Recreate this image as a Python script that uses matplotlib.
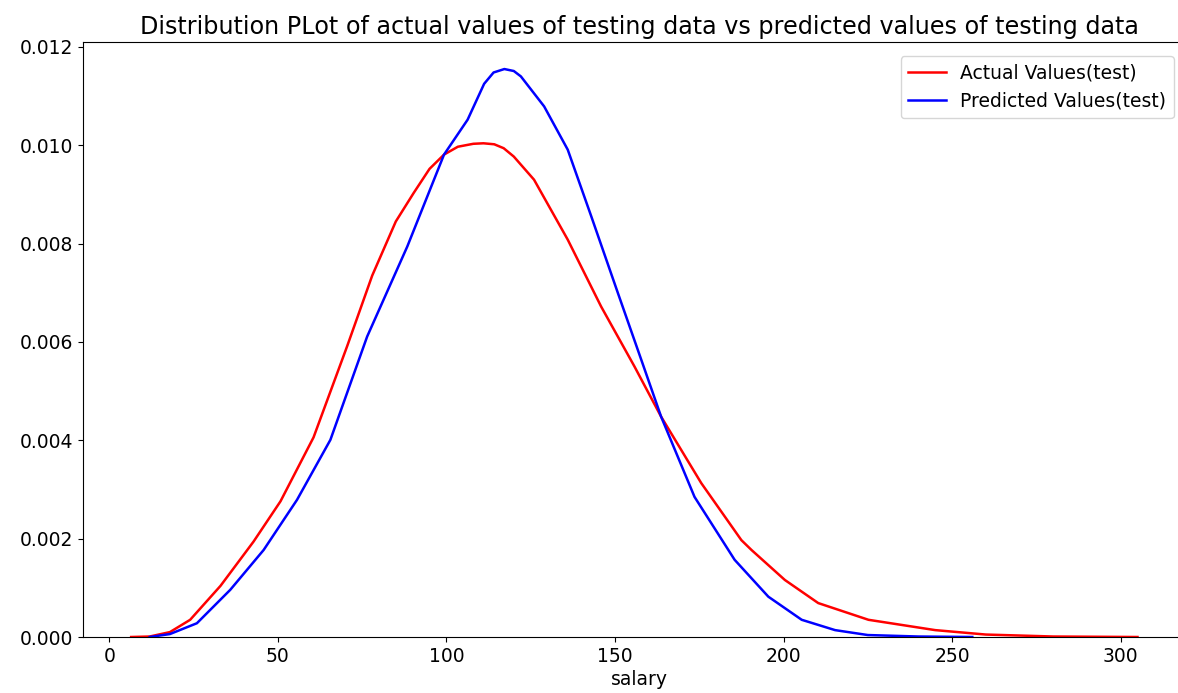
import matplotlib
matplotlib.use("Agg")
import matplotlib.pyplot as plt

# KDE curves (salary vs density)
actual_x = [6.5, 12, 18, 24, 33, 42.8, 50.8, 60.6, 70.6, 78, 85, 90.3, 95, 99.3,
            103.4, 108, 111, 114.2, 117, 120, 126, 136, 145.9, 155.8, 163.7,
            175.6, 187.5, 190.5, 200.4, 210.3, 225.2, 245, 260, 280, 305]
actual_y = [0, 0.00001, 0.0001, 0.00035, 0.00104, 0.00194, 0.00276, 0.00406,
            0.00592, 0.00735, 0.00845, 0.00903, 0.00952, 0.00981, 0.00997,
            0.01003, 0.01004, 0.01002, 0.00994, 0.00977, 0.0093, 0.00808,
            0.00672, 0.0055, 0.00448, 0.00313, 0.00197, 0.00177, 0.00116,
            0.00069, 0.00035, 0.00014, 0.00005, 0.00001, 0]

pred_x = [12, 18, 26, 35.9, 45.8, 55.7, 65.6, 76.5, 88.4, 99.3, 106.3, 111.2,
          114, 117.2, 120, 122.1, 129, 136, 143, 150.9, 157.8, 163.7, 173.6,
          185.5, 195.5, 205.4, 215.3, 225, 240, 256]
pred_y = [0, 0.00006, 0.00028, 0.00096, 0.00177, 0.00279, 0.00401, 0.00611,
          0.00794, 0.00981, 0.01052, 0.01125, 0.01148, 0.01155, 0.01151,
          0.0114, 0.01079, 0.00991, 0.00855, 0.00699, 0.00564, 0.00448,
          0.00285, 0.00157, 0.00082, 0.00035, 0.00014, 0.00004, 0.00001, 0]

fig = plt.figure(figsize=(11.78, 6.93), dpi=100)
ax = fig.add_axes([0.0707, 0.0808, 0.945, 0.8586])

ax.plot(actual_x, actual_y, color='r', lw=1.8, label='Actual Values(test)')
ax.plot(pred_x, pred_y, color='b', lw=1.8, label='Predicted Values(test)')

ax.set_xlim(-7.7, 322.5)
ax.set_ylim(0, 0.0121)
ax.set_xticks([0, 50, 100, 150, 200, 250, 300])
ax.tick_params(labelsize=13.5)
ax.set_xlabel('salary', fontsize=13.5, labelpad=3)
ax.set_title('Distribution PLot of actual values of testing data vs predicted values of testing data',
             fontsize=17.2, pad=6)
# reference image is cropped on the right, so pin the legend to the figure edge
ax.legend(loc='upper right', fontsize=13.5, bbox_to_anchor=(1174 / 1178, 1 - 56 / 693),
          bbox_transform=fig.transFigure, borderaxespad=0)

fig.savefig('out.png', dpi=100)
